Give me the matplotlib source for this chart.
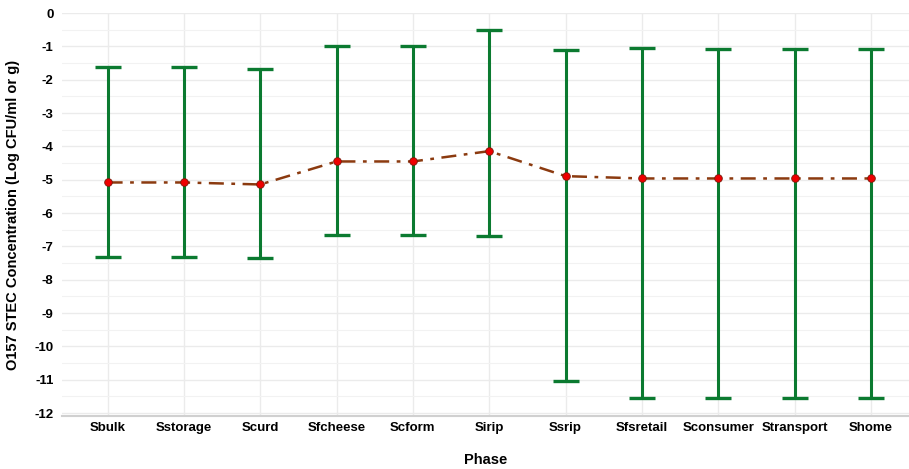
import matplotlib.pyplot as plt
import numpy as np
from matplotlib.ticker import MultipleLocator

plt.rcParams["font.family"] = ["Liberation Sans", "DejaVu Sans"]

phases = ["Sbulk", "Sstorage", "Scurd", "Sfcheese", "Scform", "Sirip",
          "Ssrip", "Sfsretail", "Sconsumer", "Stransport", "Shome"]
mean_vals = [-5.08, -5.08, -5.14, -4.45, -4.45, -4.14,
             -4.89, -4.96, -4.96, -4.96, -4.96]
upper_vals = [-1.62, -1.62, -1.67, -1.0, -1.0, -0.5,
              -1.1, -1.05, -1.08, -1.08, -1.08]
lower_vals = [-7.31, -7.31, -7.35, -6.67, -6.67, -6.7,
              -11.05, -11.56, -11.56, -11.56, -11.56]

x = np.arange(len(phases))
mean = np.array(mean_vals)
yerr = np.vstack([mean - np.array(lower_vals), np.array(upper_vals) - mean])

fig = plt.figure(figsize=(9.09, 4.69), dpi=100)
ax = fig.add_axes([0.068, 0.112, 0.932, 0.86])

ax.errorbar(x, mean, yerr=yerr, fmt="none", ecolor="#0b7a30",
            elinewidth=2.2, capsize=9.5, capthick=2.4, zorder=2)
ax.plot(x, mean, color="#8b3a0f", linestyle="-.", linewidth=1.8,
        dashes=(6, 3, 1.5, 3), marker="o", markersize=5.5,
        markerfacecolor="#ee0000", markeredgecolor="#7a1a0a",
        markeredgewidth=0.6, zorder=3)

ax.set_xlim(-0.6, 10.5)
ax.set_ylim(-12.1, 0)
ax.set_xticks(x)
ax.set_xticklabels(phases, fontsize=9.5, fontweight="bold")
ax.yaxis.set_minor_locator(MultipleLocator(0.5))
ax.set_yticks(np.arange(-12, 1, 1))
ax.set_yticklabels([str(v) for v in range(-12, 1)], fontsize=9.5, fontweight="bold")
ax.tick_params(axis="both", which="both", length=0)
ax.tick_params(axis="x", pad=4)
ax.tick_params(axis="y", pad=6)

ax.grid(True, which="major", color="#ebebeb", linewidth=1.0)
ax.grid(True, which="minor", axis="y", color="#f2f2f2", linewidth=0.8)
ax.set_axisbelow(True)
for s in ["top", "right", "left"]:
    ax.spines[s].set_visible(False)
ax.spines["bottom"].set_color("#d0d0d0")
ax.spines["bottom"].set_linewidth(1.5)

ax.set_ylabel("O157 STEC Concentration (Log CFU/ml or g)", fontsize=10.5,
              fontweight="bold", labelpad=10)
ax.set_xlabel("Phase", fontsize=10.5, fontweight="bold", labelpad=14)

fig.savefig("out.png", dpi=100)
